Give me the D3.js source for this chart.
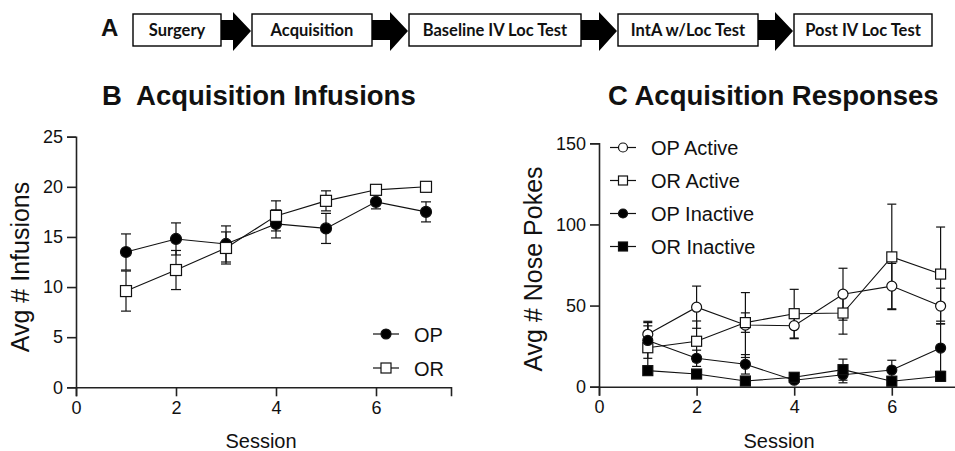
<!DOCTYPE html>
<html>
<head>
<meta charset="utf-8">
<script src="https://cdn.jsdelivr.net/npm/d3@7"></script>
<style>
  html, body { margin: 0; padding: 0; background: #fff; }
  svg { display: block; }
  text { font-family: "Liberation Sans", Arial, sans-serif; fill: #111; }
</style>
</head>
<body>
<svg id="fig" width="955" height="451"></svg>
<script>
// ---- Procedure timeline ----
const steps = ["Surgery", "Acquisition", "Baseline IV Loc Test", "IntA w/Loc Test", "Post IV Loc Test"];

// ---- Panel B: acquisition infusions ----
const sessions = [1, 2, 3, 4, 5, 6, 7];
const infusionTicksX = [0, 2, 4, 6];
const infusionTicksY = [0, 5, 10, 15, 20, 25];
const opInfusions = [13.5, 14.8, 14.3, 16.3, 15.85, 18.5, 17.5];
const opInfusionsErr = [1.8, 1.6, 1.8, 1.4, 1.5, 0.7, 1.0];
const orInfusions = [9.6, 11.7, 13.9, 17.1, 18.6, 19.7, 20.0];
const orInfusionsErr = [2.0, 1.95, 1.6, 1.5, 1.0, 0.4, 0.3];

// ---- Panel C: acquisition responses (nose pokes) ----
const responseTicksX = [0, 2, 4, 6];
const responseTicksY = [0, 50, 100, 150];
const opActive = [32.3, 49, 38, 37.6, 57, 62, 49.7];
const opActiveErr = [8, 13, 20, 8, 16, 14, 11];
const orActive = [24, 28, 39.5, 45, 45.4, 80, 69.4];
const orActiveErr = [13.5, 12.5, 6, 15, 13, 32.5, 29];
const opInactive = [28.5, 17.5, 13.8, 4, 7.4, 10.3, 23.8];
const opInactiveErr = [11, 5, 6, 2, 5, 6, 15];
const orInactive = [9.9, 7.8, 3.5, 5.8, 10.5, 3.4, 6.4];
const orInactiveErr = [2, 2, 1.5, 1.5, 6.5, 1, 3];

const svg = d3.select("#fig");

// ---------- timeline ----------
const boxX = [133, 252, 409, 618, 794];
const boxW = [88, 120, 172, 140, 138];
const boxTop = 14, boxH = 32;
svg.append("text").attr("x", 101).attr("y", 36)
  .attr("font-size", 24).attr("font-weight", "bold").text("A");

steps.forEach((s, i) => {
  svg.append("rect").attr("x", boxX[i]).attr("y", boxTop)
    .attr("width", boxW[i]).attr("height", boxH)
    .attr("fill", "#fff").attr("stroke", "#000").attr("stroke-width", 1.4);
  svg.append("text").attr("x", boxX[i] + boxW[i] / 2).attr("y", 35.5)
    .attr("text-anchor", "middle").attr("font-size", 16.5)
    .attr("font-weight", "bold").style("font-family", "Lato, sans-serif")
    .text(s);
  if (i < steps.length - 1) {
    const x0 = boxX[i] + boxW[i];
    const x1 = boxX[i + 1];
    const head = x1 - 19;
    const cy = boxTop + boxH / 2;
    const pts = [[x0, cy - 10], [head, cy - 10], [head, cy - 18], [x1 - 1, cy + 1],
                 [head, cy + 21], [head, cy + 10], [x0, cy + 10]];
    svg.append("path").attr("d", d3.line()(pts) + "Z").attr("fill", "#000");
  }
});

// ---------- shared panel drawing ----------
function drawPanel(cfg) {
  const x = d3.scaleLinear().domain(cfg.xDomain).range(cfg.xRange);
  const y = d3.scaleLinear().domain(cfg.yDomain).range(cfg.yRange);

  const axisX = d3.axisBottom(x).tickValues(cfg.ticksX).tickSize(9).tickPadding(5);
  const axisY = d3.axisLeft(y).tickValues(cfg.ticksY).tickSize(9).tickPadding(4);

  const gx = svg.append("g").attr("transform", `translate(0,${cfg.yRange[0]})`).call(axisX);
  const gy = svg.append("g").attr("transform", `translate(${cfg.xRange[0]},0)`).call(axisY);
  [gx, gy].forEach(g => {
    g.select(".domain").attr("stroke", "#222").attr("stroke-width", 1.6);
    g.selectAll(".tick line").attr("stroke", "#222").attr("stroke-width", 1.6);
    g.selectAll(".tick text").attr("font-size", 18)
      .style("font-family", "'Liberation Sans', Arial, sans-serif").attr("fill", "#111");
  });

  // axis titles
  svg.append("text").attr("x", cfg.xLabelX)
    .attr("y", 448).attr("text-anchor", "middle").attr("font-size", 20).text("Session");
  svg.append("text")
    .attr("transform", `translate(${cfg.yLabelX},${cfg.yLabelY}) rotate(-90)`)
    .attr("text-anchor", "middle").attr("font-size", 25).text(cfg.yLabel);

  // title
  svg.append("text").attr("x", cfg.titleX).attr("y", 105)
    .attr("font-size", 27.5).attr("font-weight", "bold")
    .attr("xml:space", "preserve").style("white-space", "pre").text(cfg.title);

  const line = d3.line().x((d, i) => x(sessions[i])).y(d => y(d));

  // error bars first, then lines, then markers
  cfg.series.forEach(s => {
    const g = svg.append("g");
    s.values.forEach((v, i) => {
      const cx = x(sessions[i]);
      const lo = y(v - s.err[i]), hi = y(v + s.err[i]);
      g.append("line").attr("x1", cx).attr("x2", cx).attr("y1", lo).attr("y2", hi)
        .attr("stroke", "#111").attr("stroke-width", 1.2);
      [lo, hi].forEach(yy => g.append("line")
        .attr("x1", cx - cfg.cap).attr("x2", cx + cfg.cap).attr("y1", yy).attr("y2", yy)
        .attr("stroke", "#111").attr("stroke-width", 1.2));
    });
  });
  cfg.series.forEach(s => {
    svg.append("path").datum(s.values).attr("d", line)
      .attr("fill", "none").attr("stroke", "#111").attr("stroke-width", 1.1);
  });
  cfg.series.forEach(s => {
    s.values.forEach((v, i) => marker(svg, s.shape, s.fill, x(sessions[i]), y(v), cfg.msize));
  });

  // legend
  cfg.series.forEach((s, k) => {
    const ly = cfg.legend.y0 + k * cfg.legend.dy;
    const lx = cfg.legend.x;
    svg.append("line").attr("x1", lx - 13).attr("x2", lx + 13).attr("y1", ly).attr("y2", ly)
      .attr("stroke", "#111").attr("stroke-width", 1.2);
    marker(svg, s.shape, s.fill, lx, ly, cfg.legend.msize);
    svg.append("text").attr("x", lx + cfg.legend.textDx).attr("y", ly + 7.5)
      .attr("font-size", 20).text(s.name);
  });
}

function marker(parent, shape, fill, cx, cy, size) {
  if (shape === "circle") {
    parent.append("circle").attr("cx", cx).attr("cy", cy).attr("r", size / 2)
      .attr("fill", fill).attr("stroke", "#111").attr("stroke-width", 1.2);
  } else {
    parent.append("rect").attr("x", cx - size / 2).attr("y", cy - size / 2)
      .attr("width", size).attr("height", size)
      .attr("fill", fill).attr("stroke", "#111").attr("stroke-width", 1.2);
  }
}

drawPanel({
  xDomain: [0, 7.5], xRange: [76, 451],
  yDomain: [0, 25], yRange: [387.3, 136.7],
  ticksX: infusionTicksX, ticksY: infusionTicksY,
  xLabelX: 261,
  yLabel: "Avg # Infusions", yLabelX: 29, yLabelY: 267,
  title: "B  Acquisition Infusions", titleX: 102,
  cap: 5, msize: 11,
  series: [
    { name: "OP", values: opInfusions, err: opInfusionsErr, shape: "circle", fill: "#000" },
    { name: "OR", values: orInfusions, err: orInfusionsErr, shape: "square", fill: "#fff" }
  ],
  legend: { x: 386, y0: 334, dy: 34, msize: 10, textDx: 28 }
});

drawPanel({
  xDomain: [0, 7.5], xRange: [599, 965],
  yDomain: [0, 150], yRange: [386.7, 143.3],
  ticksX: responseTicksX, ticksY: responseTicksY,
  xLabelX: 779,
  yLabel: "Avg # Nose Pokes", yLabelX: 542, yLabelY: 269,
  title: "C Acquisition Responses", titleX: 608,
  cap: 4.5, msize: 10,
  series: [
    { name: "OP Active", values: opActive, err: opActiveErr, shape: "circle", fill: "#fff" },
    { name: "OR Active", values: orActive, err: orActiveErr, shape: "square", fill: "#fff" },
    { name: "OP Inactive", values: opInactive, err: opInactiveErr, shape: "circle", fill: "#000" },
    { name: "OR Inactive", values: orInactive, err: orInactiveErr, shape: "square", fill: "#000" }
  ],
  legend: { x: 623, y0: 147.5, dy: 33, msize: 9, textDx: 28 }
});
</script>
</body>
</html>
